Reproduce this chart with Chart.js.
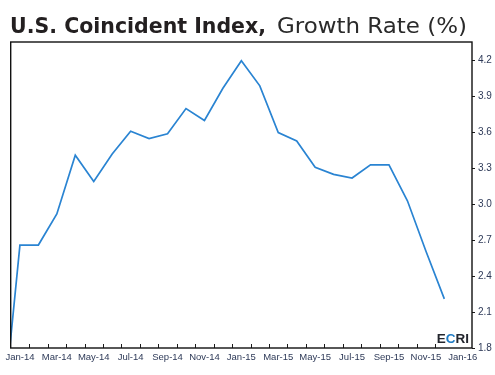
<!DOCTYPE html>
<html>
<head>
<meta charset="utf-8">
<script src="https://cdn.jsdelivr.net/npm/chart.js@4/dist/chart.umd.min.js"></script>
<style>
  html, body { margin: 0; padding: 0; background: #fff; }
  #wrap { position: relative; width: 495px; height: 375px; overflow: hidden; }
  #title { position: absolute; left: 10px; top: 13px; white-space: nowrap; color: #231f20; font-family: "DejaVu Sans", sans-serif; font-size: 21px; line-height: 26px; }
  #title .b { font-weight: bold; display: inline-block; transform-origin: left center; }
  #title .r { font-weight: normal; display: inline-block; transform-origin: left center; color: #2a2a2a; position: absolute; top: 0; }
  canvas { position: absolute; left: 0; top: 0; }
</style>
</head>
<body>
<div id="wrap">
  <canvas id="c" width="495" height="375"></canvas>
  <div id="title"><span class="b" id="tb">U.S. Coincident Index,</span><span class="r" id="tr">Growth Rate (%)</span></div>
</div>
<script>
// ---- Data ----
const months = ["Dec-13","Jan-14","Feb-14","Mar-14","Apr-14","May-14","Jun-14","Jul-14","Aug-14","Sep-14","Oct-14","Nov-14","Dec-14",
                "Jan-15","Feb-15","Mar-15","Apr-15","May-15","Jun-15","Jul-15","Aug-15","Sep-15","Oct-15","Nov-15","Dec-15"];
const growthRate = [1.10, 2.66, 2.66, 2.92, 3.41, 3.19, 3.42, 3.61, 3.55, 3.59, 3.80, 3.70, 3.97,
                    4.20, 3.99, 3.60, 3.53, 3.31, 3.25, 3.22, 3.33, 3.33, 3.03, 2.61, 2.21];
const xTickLabels = ["Jan-14","Mar-14","May-14","Jul-14","Sep-14","Nov-14","Jan-15","Mar-15","May-15","Jul-15","Sep-15","Nov-15","Jan-16"];
const yTickValues = [1.8, 2.1, 2.4, 2.7, 3.0, 3.3, 3.6, 3.9, 4.2];

// month index: Jan-14 = 0
const points = months.map((m, i) => ({ x: i - 1, y: growthRate[i] }));
const labelPositions = xTickLabels.map((l, i) => i * 2);

// title fitting
function fit(id, w) {
  const el = document.getElementById(id);
  const cw = el.getBoundingClientRect().width;
  el.style.transform = 'scaleX(' + (w / cw) + ')';
}
fit('tb', 256);
fit('tr', 190);
document.getElementById('tr').style.left = (276.5 - 10) + 'px';

const tickColor = '#2e3a58';

const framePlugin = {
  id: 'frame',
  afterDatasetsDraw(chart) {
    const { ctx, chartArea: a, scales } = chart;
    ctx.save();
    // x tick marks at month boundaries, pointing inward
    ctx.strokeStyle = '#1a1a1a';
    ctx.lineWidth = 1;
    for (let k = 0; k < 24; k++) {
      const px = Math.round(scales.x.getPixelForValue(k - 0.5)) + 0.5;
      if (px < a.left + 1 || px > a.right - 1) continue;
      ctx.beginPath();
      ctx.moveTo(px, a.bottom);
      ctx.lineTo(px, a.bottom - 4);
      ctx.stroke();
    }
    // border
    ctx.lineWidth = 1.4;
    ctx.strokeStyle = '#111';
    ctx.strokeRect(a.left, a.top, a.right - a.left, a.bottom - a.top);
    // ECRI logo
    ctx.font = 'bold 13.5px "Liberation Sans", Arial, sans-serif';
    ctx.textBaseline = 'alphabetic';
    ctx.textAlign = 'left';
    const parts = [["E", "#23262e"], ["C", "#1e7bc4"], ["RI", "#23262e"]];
    let total = 0;
    parts.forEach(p => total += ctx.measureText(p[0]).width);
    let x = a.right - 3 - total;
    const y = a.bottom - 5.5;
    parts.forEach(p => { ctx.fillStyle = p[1]; ctx.fillText(p[0], x, y); x += ctx.measureText(p[0]).width; });
    ctx.restore();
  }
};

new Chart(document.getElementById('c'), {
  type: 'line',
  data: {
    datasets: [{
      data: points,
      borderColor: '#2a84d2',
      borderWidth: 1.7,
      pointRadius: 0,
      tension: 0,
      fill: false
    }]
  },
  options: {
    responsive: false,
    animation: false,
    events: [],
    layout: { padding: { left: 10.7, top: 42, right: 0, bottom: 0 } },
    plugins: { legend: { display: false }, tooltip: { enabled: false }, title: { display: false } },
    scales: {
      x: {
        type: 'linear',
        min: -0.5,
        max: 24.5,
        afterBuildTicks(axis) { axis.ticks = labelPositions.map(v => ({ value: v })); },
        afterFit(axis) { axis.height = 375 - 348; },
        ticks: {
          autoSkip: false,
          maxRotation: 0,
          padding: 4,
          color: tickColor,
          font: { family: '"Liberation Sans", Arial, sans-serif', size: 9.5 },
          callback(v) { const i = labelPositions.indexOf(v); return i >= 0 ? xTickLabels[i] : ''; }
        },
        grid: { display: false, drawTicks: false },
        border: { display: false }
      },
      y: {
        position: 'right',
        min: 1.8,
        max: 4.356,
        afterBuildTicks(axis) { axis.ticks = yTickValues.map(v => ({ value: v })); },
        afterFit(axis) { axis.width = 495 - 472; },
        ticks: {
          padding: 3,
          color: tickColor,
          font: { family: '"Liberation Sans", Arial, sans-serif', size: 10 },
          callback(v) { return Number(v).toFixed(1); }
        },
        grid: { drawOnChartArea: false, drawTicks: true, tickLength: 3, color: '#1a1a1a' },
        border: { display: false }
      }
    }
  },
  plugins: [framePlugin]
});
</script>
</body>
</html>
